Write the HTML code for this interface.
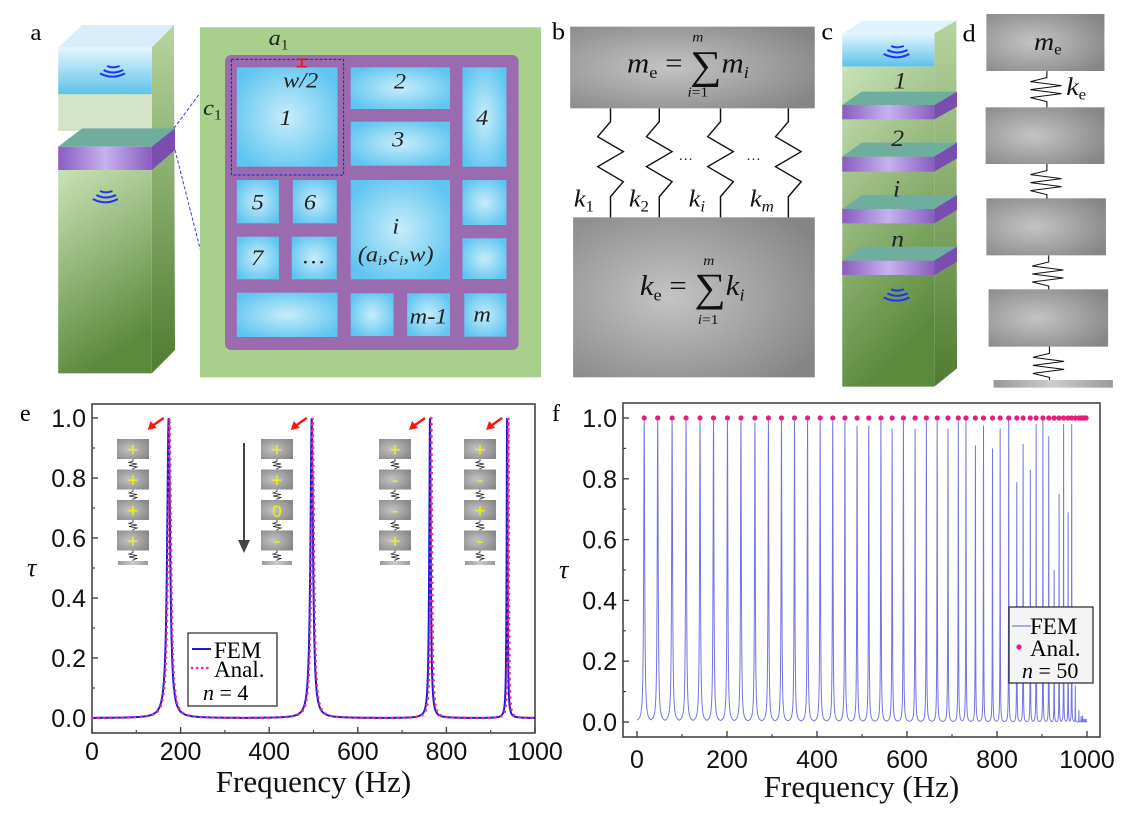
<!DOCTYPE html>
<html><head><meta charset="utf-8"><style>
body{margin:0;background:#fff;width:1125px;height:819px;overflow:hidden}
svg{position:absolute;left:0;top:0}
.serif{font-family:"Liberation Serif",serif}
.sans{font-family:"Liberation Sans",sans-serif}
</style></head><body>
<svg width="1125" height="819" viewBox="0 0 1125 819">
<defs>
<radialGradient id="cellg" cx="0.5" cy="0.5" r="0.6"><stop offset="0" stop-color="#c8ecfb"/><stop offset="1" stop-color="#5ec5f0"/></radialGradient>
<radialGradient id="grayg" cx="0.4" cy="0.5" r="0.7"><stop offset="0" stop-color="#c4c4c4"/><stop offset="1" stop-color="#858585"/></radialGradient>
<linearGradient id="greenf" x1="0" y1="0" x2="0.3" y2="1"><stop offset="0" stop-color="#c9e2b6"/><stop offset="1" stop-color="#5c8a3c"/></linearGradient>
<linearGradient id="greens" x1="0" y1="0" x2="0" y2="1"><stop offset="0" stop-color="#b7d49e"/><stop offset="1" stop-color="#4e7c30"/></linearGradient>
<linearGradient id="bluef" x1="0" y1="0" x2="0" y2="1"><stop offset="0" stop-color="#e4f5fd"/><stop offset="1" stop-color="#5cc3ea"/></linearGradient>
<linearGradient id="purp" x1="0" y1="0" x2="1" y2="0"><stop offset="0" stop-color="#8a5cc0"/><stop offset="0.5" stop-color="#c6b2ee"/><stop offset="1" stop-color="#8a5cc0"/></linearGradient>
<linearGradient id="groundg" x1="0" y1="0" x2="1" y2="0"><stop offset="0" stop-color="#999"/><stop offset="0.5" stop-color="#ccc"/><stop offset="1" stop-color="#999"/></linearGradient>
</defs>

<!-- Panel a -->
<g transform="scale(0.35714,0.33333)">
<text x="85" y="120" class="serif" font-size="70">a</text>
<polygon points="163,143 230,75 487,75 425,143" fill="#d8effb"/>
<polygon points="425,143 487,75 490,1050 425,1120" fill="url(#greens)"/>
<rect x="163" y="143" width="262" height="140" fill="url(#bluef)"/>
<rect x="163" y="283" width="262" height="110" fill="#d5e4c6"/>
<polygon points="163,440 230,385 490,385 425,440" fill="#6fae9f"/>
<rect x="163" y="440" width="262" height="70" fill="url(#purp)"/>
<polygon points="425,440 490,385 490,450 425,510" fill="#7a4eb0"/>
<rect x="163" y="510" width="262" height="610" fill="url(#greenf)"/>
<g fill="none" stroke="#2233ee" stroke-width="6"><path d="M290,210 q25,15 55,0"/><path d="M280,220 q35,20 70,0"/><path d="M300,198 q15,8 35,0"/></g>
<g fill="none" stroke="#2233ee" stroke-width="6"><path d="M270,585 q25,15 55,0"/><path d="M260,597 q35,20 70,0"/><path d="M280,573 q15,8 35,0"/></g>
<line x1="487" y1="385" x2="630" y2="178" stroke="#4444ee" stroke-width="3" stroke-dasharray="10 6"/>
<line x1="490" y1="450" x2="630" y2="1040" stroke="#4444ee" stroke-width="3" stroke-dasharray="10 6"/>
<rect x="560" y="82" width="955" height="1050" fill="#a8d08c"/>
<rect x="630" y="165" width="822" height="885" rx="18" fill="#9b6bb0"/>
<g fill="url(#cellg)">
<rect x="663" y="202" width="282" height="298"/><rect x="982" y="202" width="278" height="125"/><rect x="982" y="365" width="278" height="132"/>
<rect x="1295" y="202" width="123" height="298"/><rect x="663" y="540" width="118" height="130"/><rect x="820" y="540" width="123" height="130"/>
<rect x="982" y="540" width="278" height="298"/><rect x="1295" y="540" width="123" height="135"/><rect x="663" y="710" width="118" height="128"/>
<rect x="817" y="710" width="126" height="128"/><rect x="1295" y="715" width="123" height="122"/><rect x="663" y="878" width="282" height="133"/>
<rect x="982" y="880" width="120" height="128"/><rect x="1140" y="880" width="120" height="128"/><rect x="1300" y="880" width="118" height="130"/>
</g>
<rect x="648" y="178" width="314" height="347" fill="none" stroke="#2222cc" stroke-width="3" stroke-dasharray="8 5"/>
<path d="M830,178 h30 M845,178 v22 M830,200 h30" stroke="#e11" stroke-width="5"/>
<g class="serif" font-style="italic" font-size="68" fill="#222" text-anchor="middle">
<text x="780" y="135">a<tspan font-size="44" font-style="normal" dy="14">1</tspan></text>
<text x="595" y="345">c<tspan font-size="44" font-style="normal" dy="14">1</tspan></text>
<text x="842" y="262">w/2</text><text x="800" y="375">1</text><text x="1120" y="265">2</text><text x="1115" y="440">3</text><text x="1350" y="375">4</text>
<text x="722" y="628">5</text><text x="868" y="628">6</text><text x="720" y="795">7</text><text x="878" y="790" font-style="normal">…</text>
<text x="1108" y="700">i</text><text x="1108" y="785">(a<tspan font-size="42" dy="10">i</tspan><tspan dy="-10">,c</tspan><tspan font-size="42" dy="10">i</tspan><tspan dy="-10">,w)</tspan></text>
<text x="1200" y="970">m-1</text><text x="1350" y="965">m</text>
</g>
</g>

<!-- Panels b, c, d -->
<g transform="translate(550,0) scale(0.3667,0.33333)">
<text x="5" y="118" class="serif" font-size="72">b</text>
<rect x="55" y="80" width="667" height="245" fill="url(#grayg)"/>
<rect x="63" y="652" width="659" height="480" fill="url(#grayg)"/>
<g fill="none" stroke="#111" stroke-width="4">
<path d="M165,325 v40 l-35,45 l70,45 l-70,45 l70,45 l-35,45 v62"/>
<path d="M298,325 v40 l-35,45 l70,45 l-70,45 l70,45 l-35,45 v62"/>
<path d="M465,325 v40 l-35,45 l70,45 l-70,45 l70,45 l-35,45 v62"/>
<path d="M650,325 v40 l-35,45 l70,45 l-70,45 l70,45 l-35,45 v62"/>
</g>
<g class="serif" font-size="84" font-style="italic" fill="#111">
<text x="210" y="218">m<tspan font-size="50" font-style="normal" dy="16">e</tspan><tspan dy="-16" font-style="normal"> = </tspan><tspan font-style="normal" font-size="120" dy="18">∑</tspan><tspan dy="-18">m</tspan><tspan font-size="50" dy="16">i</tspan></text>
<text x="388" y="125" font-size="42">m</text><text x="375" y="290" font-size="42">i<tspan font-style="normal">=1</tspan></text>
<text x="245" y="885">k<tspan font-size="50" font-style="normal" dy="16">e</tspan><tspan dy="-16" font-style="normal"> = </tspan><tspan font-style="normal" font-size="120" dy="18">∑</tspan><tspan dy="-18">k</tspan><tspan font-size="50" dy="16">i</tspan></text>
<text x="418" y="795" font-size="42">m</text><text x="403" y="972" font-size="42">i<tspan font-style="normal">=1</tspan></text>
<text x="65" y="620" font-size="72">k<tspan font-size="46" font-style="normal" dy="14">1</tspan></text>
<text x="215" y="620" font-size="72">k<tspan font-size="46" font-style="normal" dy="14">2</tspan></text>
<text x="378" y="620" font-size="72">k<tspan font-size="46" dy="14">i</tspan></text>
<text x="545" y="620" font-size="72">k<tspan font-size="46" dy="14">m</tspan></text>
<text x="350" y="480" font-size="40" font-style="normal">…</text><text x="535" y="480" font-size="40" font-style="normal">…</text>
</g>
<text x="740" y="118" class="serif" font-size="72">c</text>
<polygon points="797,100 855,62 1108,62 1048,100" fill="#dff3fc"/>
<polygon points="1048,100 1108,62 1110,1105 1048,1160" fill="url(#greens)"/>
<rect x="797" y="100" width="251" height="100" fill="url(#bluef)"/>
<rect x="797" y="200" width="251" height="960" fill="url(#greenf)"/>
<g>
<rect x="797" y="315" width="251" height="43" fill="url(#purp)"/><polygon points="797,315 850,275 1110,275 1048,315" fill="#6fae9f"/><polygon points="1048,315 1110,275 1110,320 1048,358" fill="#7a4eb0"/>
<rect x="797" y="470" width="251" height="45" fill="url(#purp)"/><polygon points="797,470 850,428 1110,428 1048,470" fill="#6fae9f"/><polygon points="1048,470 1110,428 1110,475 1048,515" fill="#7a4eb0"/>
<rect x="797" y="627" width="251" height="43" fill="url(#purp)"/><polygon points="797,627 850,585 1110,585 1048,627" fill="#6fae9f"/><polygon points="1048,627 1110,585 1110,630 1048,670" fill="#7a4eb0"/>
<rect x="797" y="782" width="251" height="43" fill="url(#purp)"/><polygon points="797,782 850,740 1110,740 1048,782" fill="#6fae9f"/><polygon points="1048,782 1110,740 1110,785 1048,825" fill="#7a4eb0"/>
</g>
<g fill="none" stroke="#2233ee" stroke-width="6"><path d="M920,150 q25,15 55,0"/><path d="M910,162 q35,20 70,0"/><path d="M930,138 q15,8 35,0"/>
<path d="M920,880 q25,15 55,0"/><path d="M910,892 q35,20 70,0"/><path d="M930,868 q15,8 35,0"/></g>
<g class="serif" font-size="70" font-style="italic" fill="#222" text-anchor="middle"><text x="955" y="265">1</text><text x="948" y="438">2</text><text x="945" y="590">i</text><text x="948" y="740">n</text></g>
<text x="1125" y="125" class="serif" font-size="72">d</text>
<g fill="url(#grayg)">
<rect x="1190" y="42" width="322" height="171"/><rect x="1188" y="322" width="324" height="170"/><rect x="1190" y="595" width="326" height="171"/><rect x="1196" y="868" width="326" height="172"/>
</g>
<rect x="1210" y="1140" width="325" height="23" fill="url(#groundg)"/>
<g fill="none" stroke="#111" stroke-width="3">
<path d="M1355,213 v20 l-45,12 l85,12 l-85,12 l85,12 l-85,12 l45,12 v17"/>
<path d="M1355,492 v20 l-45,12 l85,12 l-85,12 l85,12 l-85,12 l45,12 v12"/>
<path d="M1360,766 v20 l-45,12 l85,12 l-85,12 l85,12 l-85,12 l45,12 v10"/>
<path d="M1362,1040 v20 l-45,12 l85,12 l-85,12 l85,12 l-85,12 l45,12 v8"/>
</g>
<g class="serif" font-size="76" font-style="italic" fill="#111">
<text x="1320" y="150">m<tspan font-size="46" font-style="normal" dy="14">e</tspan></text>
<text x="1408" y="285">k<tspan font-size="46" font-style="normal" dy="14">e</tspan></text>
</g>
</g>

<!-- Panel e -->
<g id="chartE">
<text x="20" y="421" class="serif" font-size="24">e</text>
</g>
<!-- Panel f -->
<g id="chartF">
<text x="552" y="421" class="serif" font-size="24">f</text>
</g>
</svg>
<script>
// ----- Panel e data -----
const eTicksX = [0, 200, 400, 600, 800, 1000];
const eTicksY = [0.0, 0.2, 0.4, 0.6, 0.8, 1.0];
const eFemPeaks = [173, 496, 763, 937];
const eAnalPeaks = [175, 498, 766, 940];
const ePeakWidths = [4, 3.5, 2, 1.2];
const eModes = [["+","+","+","+"],["+","+","0","-"],["+","-","-","+"],["+","-","+","-"]];
// ----- Panel f data -----
const fTicksX = [0, 200, 400, 600, 800, 1000];
const fTicksY = [0.0, 0.2, 0.4, 0.6, 0.8, 1.0];
const fPeaks = [16,46,78,109,140,170,201,231,262,292,321,350,379,407,435,462,489,515,542,567,592,618,643,667,691,714,731,752,770,790,807,826,844,858,874,887,902,915,927,938,948,958,966,974,982,987,990,993,996,998];
const fHeights = [0.99,0.99,0.99,0.99,0.99,0.99,0.99,0.99,0.985,0.99,0.99,0.99,0.99,0.99,0.99,0.99,0.975,0.975,0.99,0.965,0.99,0.965,0.99,0.99,0.965,0.99,1.0,0.91,0.975,0.9,0.965,1.0,0.79,0.915,0.83,0.98,1.0,0.94,0.5,0.75,0.98,0.69,0.98,0.12,0.04,0.02,0.02,0.01,0.01,0.01];

const NS = "http://www.w3.org/2000/svg";
function mk(parent, tag, attrs){const el=document.createElementNS(NS,tag);for(const k in attrs)el.setAttribute(k,attrs[k]);parent.appendChild(el);return el;}

function axes(g, xs, ys, ticksX, ticksY, frame, name, tickBase, titleBase, tauX){
  const fr = mk(g,"rect",{x:frame[0],y:frame[1],width:frame[2]-frame[0],height:frame[3]-frame[1],fill:"none",stroke:"#444","stroke-width":1.6});
  
  
  ticksX.forEach((t,i)=>{
    const x=xs(t);
    mk(g,"line",{x1:x,y1:frame[3],x2:x,y2:frame[3]-6,stroke:"#444","stroke-width":1.4});
    if(i<ticksX.length-1){const xm=xs((t+ticksX[i+1])/2);mk(g,"line",{x1:xm,y1:frame[3],x2:xm,y2:frame[3]-3,stroke:"#444","stroke-width":1.2});}
    const tx=mk(g,"text",{x:x,y:tickBase,"text-anchor":"middle","font-size":25,class:"sans",fill:"#111"});
    tx.textContent=String(t);
    
    
  });
  ticksY.forEach((t,i)=>{
    const y=ys(t);
    mk(g,"line",{x1:frame[0],y1:y,x2:frame[0]+6,y2:y,stroke:"#444","stroke-width":1.4});
    if(i<ticksY.length-1){const ym=ys((t+ticksY[i+1])/2);mk(g,"line",{x1:frame[0],y1:ym,x2:frame[0]+3,y2:ym,stroke:"#444","stroke-width":1.2});}
    const ty=mk(g,"text",{x:frame[0]-6,y:y+9,"text-anchor":"end","font-size":25,class:"sans",fill:"#111"});
    ty.textContent=t.toFixed(1);
    
    
  });
  const xt=mk(g,"text",{x:(frame[0]+frame[2])/2,y:titleBase,"text-anchor":"middle","font-size":31,class:"serif",fill:"#111"});
  xt.textContent="Frequency (Hz)";
  
  
  const yt=mk(g,"text",{x:tauX,y:(ys(0.5))+8,"font-size":26,"font-style":"italic",class:"serif",fill:"#111"});
  yt.textContent="τ";
  
  
}
function curve(peaks, heights, widths, step){
  const fs=[];
  for(let f=0;f<=1000;f+=step)fs.push(f);
  peaks.forEach(p=>{fs.push(p-0.3,p,p+0.3);});
  fs.sort((a,b)=>a-b);
  return fs.map(f=>{let v=0;peaks.forEach((p,i)=>{const d=(f-p)/widths[i];v=Math.max(v,heights[i]/(1+d*d));});return [f,v];});
}

// ---- Chart e ----
(function(){
  const g=document.getElementById("chartE");
  const frame=[92,404,535,733];
  const xs=v=>92+(v/1000)*443, ys=v=>718-v*300;
  axes(g,xs,ys,eTicksX,eTicksY,frame,"chart-e",760,792,27);
  const femPts=curve(eFemPeaks,eFemPeaks.map(()=>1.0),ePeakWidths,0.5);
  const femD="M"+femPts.map(p=>xs(p[0]).toFixed(2)+","+ys(p[1]).toFixed(2)).join("L");
  const fem=mk(g,"path",{d:femD,fill:"none",stroke:"#1a1adc","stroke-width":2});
  
  
  const anPts=curve(eAnalPeaks,eAnalPeaks.map(()=>1.0),ePeakWidths,0.5);
  const anD="M"+anPts.map(p=>xs(p[0]).toFixed(2)+","+ys(p[1]).toFixed(2)).join("L");
  const an=mk(g,"path",{d:anD,fill:"none",stroke:"#ee2a8a","stroke-width":2.6,"stroke-dasharray":"0.1 6","stroke-linecap":"round"});
  
  
  const insetX=[117,261,379,464];
  eModes.forEach((mode,k)=>{
    const ig=mk(g,"g",{});
    
    
    const x0=insetX[k];
    mode.forEach((s,j)=>{
      const y0=439+j*30.5;
      mk(ig,"rect",{x:x0,y:y0,width:32,height:20,fill:"url(#grayg)"});
      const tt=mk(ig,"text",{x:x0+16,y:y0+17,"text-anchor":"middle","font-size":s==="0"?17:19,class:"sans",fill:"#f2f20a"});
      tt.textContent=s;
      mk(ig,"path",{d:`M${x0+16},${y0+20} v2 l-4,1.5 l8,1.5 l-8,1.5 l8,1.5 l-4,1.5 v1.5`,fill:"none",stroke:"#222","stroke-width":0.8});
    });
    mk(ig,"rect",{x:x0+1,y:561,width:30,height:4,fill:"url(#groundg)"});
    const px=xs(eFemPeaks[k]);
    const ar=mk(g,"g",{});
    
    
    mk(ar,"line",{x1:px-5,y1:418,x2:px-15,y2:425,stroke:"#f01a10","stroke-width":2.5});
    mk(ar,"polygon",{points:`${px-21},${430} ${px-18},${421} ${px-12},${428}`,fill:"#f01a10"});
  });
  const down=mk(g,"g",{});
  
  
  mk(down,"line",{x1:244,y1:443,x2:244,y2:542,stroke:"#444","stroke-width":2});
  mk(down,"polygon",{points:"238,540 250,540 244,553",fill:"#444"});
  const lg=mk(g,"g",{});
  
  
  mk(lg,"rect",{x:188,y:633,width:89,height:73,fill:"#fff",stroke:"#222","stroke-width":1.2});
  mk(lg,"line",{x1:192,y1:649,x2:211,y2:649,stroke:"#1a1adc","stroke-width":2});
  mk(lg,"line",{x1:192,y1:668,x2:211,y2:668,stroke:"#ee2a8a","stroke-width":2.6,"stroke-dasharray":"0.1 5","stroke-linecap":"round"});
  const l1=mk(lg,"text",{x:214,y:658,"font-size":23,class:"serif"});l1.textContent="FEM";
  const l2=mk(lg,"text",{x:214,y:677,"font-size":23,class:"serif"});l2.textContent="Anal.";
  const l3=mk(lg,"text",{x:203,y:700,"font-size":22,class:"serif"});l3.innerHTML='<tspan font-style="italic">n</tspan> = 4';
})();

// ---- Chart f ----
(function(){
  const g=document.getElementById("chartF");
  const frame=[623,403,1100,737];
  const xs=v=>637+(v/1000)*450, ys=v=>722-v*304;
  axes(g,xs,ys,fTicksX,fTicksY,frame,"chart-f",768,797,559);
  const widths=fPeaks.map(p=>1.3-p*0.0011);
  const pts=curve(fPeaks,fHeights,widths,0.25);
  const d="M"+pts.map(p=>xs(p[0]).toFixed(2)+","+ys(p[1]).toFixed(2)).join("L");
  const fem=mk(g,"path",{d:d,fill:"none",stroke:"#5a5ae0","stroke-width":1,"stroke-opacity":0.85});
  
  
  fPeaks.forEach(p=>{
    const c=mk(g,"circle",{cx:xs(p),cy:ys(1.0),r:2.6,fill:"#ea1a7e"});
    
    
  });
  const lg=mk(g,"g",{});
  
  
  mk(lg,"rect",{x:1009,y:607,width:84,height:76,fill:"#f4f4f4",stroke:"#222","stroke-width":1.2});
  mk(lg,"line",{x1:1012,y1:626,x2:1031,y2:626,stroke:"#5a5ae0","stroke-width":1});
  mk(lg,"circle",{cx:1019,cy:647,r:2.6,fill:"#ea1a7e"});
  const l1=mk(lg,"text",{x:1030,y:634,"font-size":23,class:"serif"});l1.textContent="FEM";
  const l2=mk(lg,"text",{x:1030,y:656,"font-size":23,class:"serif"});l2.textContent="Anal.";
  const l3=mk(lg,"text",{x:1022,y:678,"font-size":22,class:"serif"});l3.innerHTML='<tspan font-style="italic">n</tspan> = 50';
})();
</script>
</body></html>
